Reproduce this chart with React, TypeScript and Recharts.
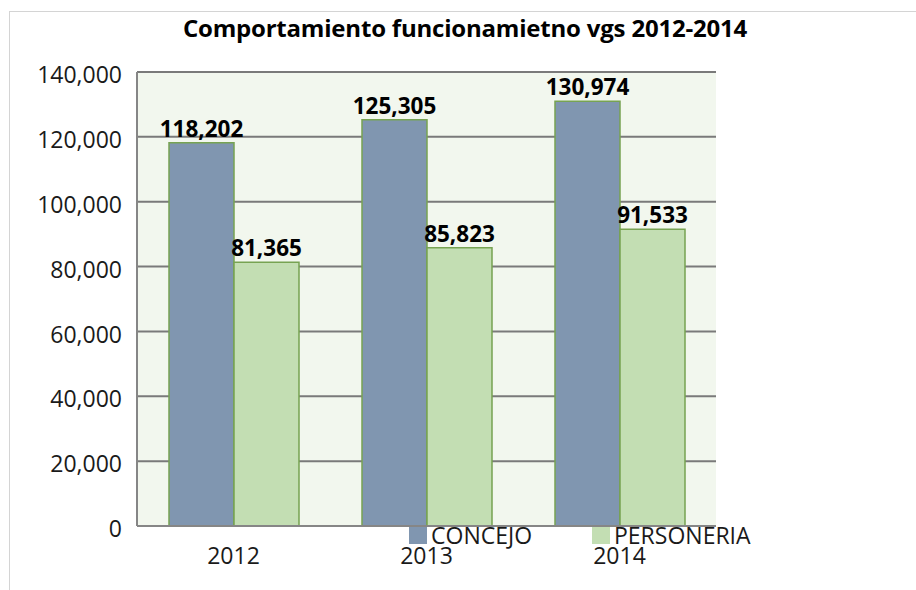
import React from 'react';
import { BarChart, Bar, XAxis, YAxis, CartesianGrid, LabelList, Legend } from 'recharts';

const years = ['2012', '2013', '2014'];
const concejo = [118202, 125305, 130974];
const personeria = [81365, 85823, 91533];
const yTicks = [0, 20000, 40000, 60000, 80000, 100000, 120000, 140000];
const seriesNames = { concejo: 'CONCEJO', personeria: 'PERSONERIA' };
const title = 'Comportamiento funcionamietno vgs 2012-2014';

const data = years.map((y, i) => ({ year: y, concejo: concejo[i], personeria: personeria[i] }));

const FONT = '"Open Sans", "Liberation Sans", sans-serif';
const fmt = (v: number) => v.toLocaleString('en-US');

const LegendContent = (props: any) => {
  const items = props.payload || [];
  const pos = [409, 592];
  return (
    <div style={{ position: 'relative', width: 0, height: 0 }}>
      {items.map((it: any, i: number) => (
        <div
          key={i}
          style={{
            position: 'absolute',
            left: pos[i],
            top: 0,
            display: 'flex',
            alignItems: 'center',
            whiteSpace: 'nowrap',
            fontFamily: FONT,
            fontSize: 23,
            color: '#1a1a1a',
            lineHeight: '17px',
          }}
        >
          <span style={{ display: 'inline-block', width: 18, height: 17, background: it.color, marginRight: 4 }} />
          <span>{it.value}</span>
        </div>
      ))}
    </div>
  );
};

export default function App() {
  return (
    <div style={{ position: 'absolute', left: 0, top: 0, width: 916, height: 590, background: '#fff', overflow: 'hidden' }}>
      <div
        style={{
          position: 'absolute',
          left: 9,
          top: 11,
          width: 1200,
          height: 1200,
          borderTop: '1.5px solid #d4d4d4',
          borderLeft: '1.5px solid #d4d4d4',
        }}
      />
      <div
        style={{
          position: 'absolute',
          left: 0,
          width: 930,
          top: 11,
          textAlign: 'center',
          fontFamily: FONT,
          fontWeight: 700,
          fontSize: 24,
          color: '#000',
          letterSpacing: -0.2,
          whiteSpace: 'nowrap',
        }}
      >
        {title}
      </div>
      <div style={{ position: 'absolute', left: 0, top: 0 }}>
        <BarChart
          width={916}
          height={590}
          data={data}
          margin={{ top: 72, right: 200, bottom: 0, left: 0 }}
          barCategoryGap={32}
          barGap={0}
        >
          <CartesianGrid vertical={false} horizontal stroke="#7a7a7a" strokeWidth={2} fill="#f2f7ee" />
          <XAxis
            dataKey="year"
            height={64}
            tickLine={false}
            tickSize={0}
            tickMargin={22}
            axisLine={{ stroke: '#868686', strokeWidth: 2 }}
            tick={{ fontFamily: FONT, fontSize: 23, fill: '#1a1a1a' }}
          />
          <YAxis
            width={137}
            domain={[0, 140000]}
            ticks={yTicks}
            interval={0}
            tickFormatter={fmt}
            tickLine={false}
            tickSize={0}
            tickMargin={15}
            axisLine={{ stroke: '#868686', strokeWidth: 2 }}
            tick={{ fontFamily: FONT, fontSize: 23, fill: '#1a1a1a', dy: 3 }}
          />
          <Legend
            content={LegendContent}
            verticalAlign="bottom"
            wrapperStyle={{ position: 'absolute', left: 0, top: 527, width: 0, height: 0 }}
          />
          <Bar
            dataKey="concejo"
            name={seriesNames.concejo}
            fill="#8096b0"
            stroke="#77a352"
            strokeWidth={1.5}
            isAnimationActive={false}
          >
            <LabelList
              dataKey="concejo"
              position="top"
              offset={6}
              formatter={(v: any) => fmt(Number(v))}
              style={{ fontFamily: FONT, fontSize: 22.5, fontWeight: 700, fill: '#000' }}
            />
          </Bar>
          <Bar
            dataKey="personeria"
            name={seriesNames.personeria}
            fill="#c3deb3"
            stroke="#77a352"
            strokeWidth={1.5}
            isAnimationActive={false}
          >
            <LabelList
              dataKey="personeria"
              position="top"
              offset={6}
              formatter={(v: any) => fmt(Number(v))}
              style={{ fontFamily: FONT, fontSize: 22.5, fontWeight: 700, fill: '#000' }}
            />
          </Bar>
        </BarChart>
      </div>
    </div>
  );
}
